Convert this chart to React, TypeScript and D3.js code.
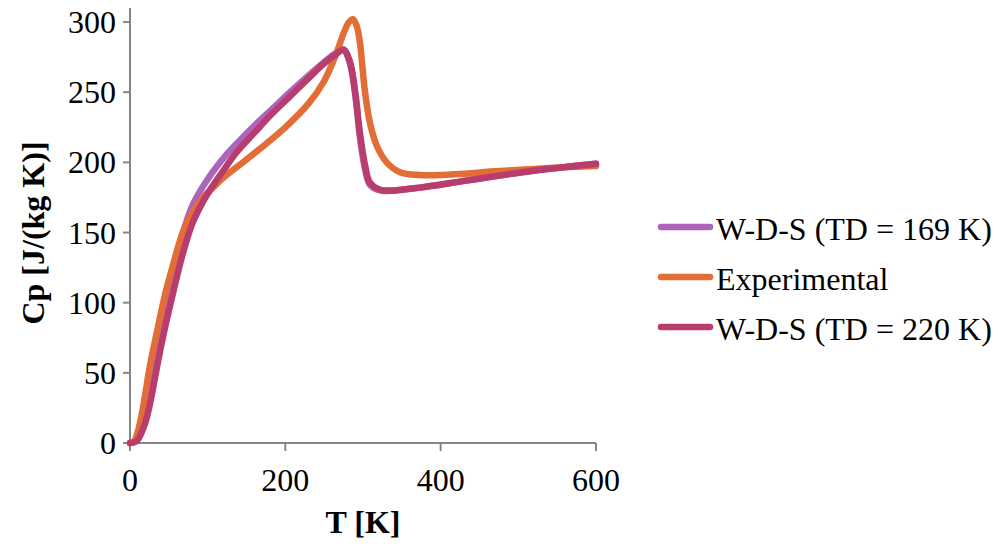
import React from "react";
import * as d3 from "d3";

const tempPurple = [0, 5, 10, 15, 20, 25, 30, 35, 40, 45, 50, 55, 60, 70, 81, 100, 125, 142, 160, 185, 206, 230, 249, 265, 275, 283, 290, 296, 303, 309, 322, 340, 373, 433, 519, 600];
const cpPurple = [0, 1, 4, 10, 19, 30, 44, 60, 76, 92, 106, 120, 133, 153, 170, 188, 206, 216, 226, 239, 250, 262, 271, 278, 280.5, 271, 248, 218, 194, 184, 180, 180, 182, 187, 194, 199];

const tempExp = [0, 5, 10, 15, 20, 25, 30, 35, 40, 47, 55, 62, 70, 80, 94, 105, 120, 150, 200, 230, 250, 266, 275, 282, 287, 292, 296, 302.6, 309, 317.6, 330.5, 347.6, 373, 400, 476, 541, 600];
const cpExp = [0, 1, 8, 20, 36, 53, 67, 80, 93, 110, 126, 140, 153, 164, 175, 181, 189, 202, 225, 242, 258, 278, 292, 300, 302, 297, 285.5, 250, 228, 212, 200, 193, 191, 191, 193.8, 196, 197.4];

const tempMag = [0, 8, 12, 16, 20, 25, 30, 35, 40, 45, 50, 58, 68, 80, 94, 105, 120, 137, 160, 180, 206, 230, 249, 265, 275, 283, 290, 296, 303, 309, 322, 340, 373, 433, 519, 600];
const cpMag = [0, 1, 4, 9, 15, 26, 40, 55, 69, 82, 94, 113, 135, 156, 172, 182, 194, 207, 221, 233, 247, 260, 270, 277, 280, 272, 250, 221, 197, 185.5, 180.5, 180, 182, 187, 194, 199];

const seriesNames = ["W-D-S (TD = 169 K)", "Experimental", "W-D-S (TD = 220 K)"];
const seriesColors = ["#AD65BC", "#E26D36", "#B83C6C"];

const xTicks = [0, 200, 400, 600];
const yTicks = [0, 50, 100, 150, 200, 250, 300];

const FONT = "Liberation Serif, Times New Roman, Times, serif";

export default function App() {
  const x = d3.scaleLinear().domain([0, 600]).range([130, 596]);
  const y = d3.scaleLinear().domain([0, 310]).range([443, 8]);

  const series = [
    { t: tempPurple, c: cpPurple },
    { t: tempExp, c: cpExp },
    { t: tempMag, c: cpMag },
  ];

  const line = d3
    .line<[number, number]>()
    .x((d) => x(d[0]))
    .y((d) => y(d[1]))
    .curve(d3.curveCatmullRom.alpha(0.5));

  const axisColor = "#868686";
  const txt = { fontFamily: FONT, fontSize: 32, fill: "#000" } as const;

  return (
    <svg
      width={998}
      height={546}
      style={{ position: "absolute", left: 0, top: 0, background: "#fff" }}
    >
      <rect x={0} y={0} width={998} height={546} fill="#fff" />
      <line x1={x(0)} x2={x(0)} y1={y(310)} y2={y(0)} stroke={axisColor} strokeWidth={2} />
      <line x1={x(0)} x2={x(600)} y1={y(0)} y2={y(0)} stroke={axisColor} strokeWidth={2} />
      {yTicks.map((v) => (
        <g key={"y" + v}>
          <line x1={x(0) - 7} x2={x(0)} y1={y(v)} y2={y(v)} stroke={axisColor} strokeWidth={2} />
          <text x={116} y={y(v)} textAnchor="end" dominantBaseline="central" style={txt}>
            {v}
          </text>
        </g>
      ))}
      {xTicks.map((v) => (
        <g key={"x" + v}>
          <line x1={x(v)} x2={x(v)} y1={y(0)} y2={y(0) + 8} stroke={axisColor} strokeWidth={2} />
          <text x={x(v)} y={480} textAnchor="middle" dominantBaseline="central" style={txt}>
            {v}
          </text>
        </g>
      ))}
      <text
        x={363}
        y={522}
        textAnchor="middle"
        dominantBaseline="central"
        style={{ ...txt, fontWeight: "bold" }}
      >
        T [K]
      </text>
      <text
        transform={`translate(33,233) rotate(-90)`}
        textAnchor="middle"
        dominantBaseline="central"
        style={{ ...txt, fontWeight: "bold" }}
      >
        Cp [J/(kg K)]
      </text>
      {series.map((s, i) => (
        <path
          key={"s" + i}
          d={line(s.t.map((t, j) => [t, s.c[j]] as [number, number])) || ""}
          fill="none"
          stroke={seriesColors[i]}
          strokeWidth={6.5}
          strokeLinejoin="round"
          strokeLinecap="round"
        />
      ))}
      {seriesNames.map((n, i) => (
        <g key={"l" + i}>
          <line
            x1={661}
            x2={710}
            y1={227 + i * 50}
            y2={227 + i * 50}
            stroke={seriesColors[i]}
            strokeWidth={6.5}
            strokeLinecap="round"
          />
          <text x={716} y={229 + i * 50} dominantBaseline="central" style={txt}>
            {n}
          </text>
        </g>
      ))}
    </svg>
  );
}
